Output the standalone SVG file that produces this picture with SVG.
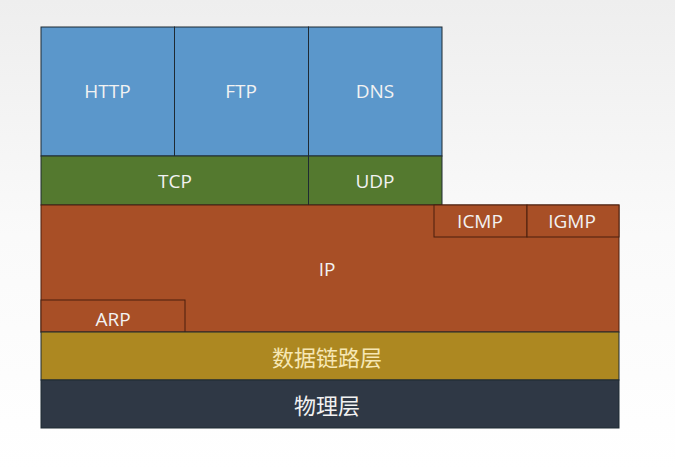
<svg xmlns="http://www.w3.org/2000/svg" width="675" height="470" viewBox="0 0 675 470">
<defs>
<linearGradient id="bg" x1="0" y1="0" x2="0" y2="1">
<stop offset="0" stop-color="#eeeeee"/>
<stop offset="0.5" stop-color="#fafafa"/>
<stop offset="1" stop-color="#ffffff"/>
</linearGradient>
<style>
.box{stroke:#1f2a33;stroke-width:1}
.app{fill:#5b97cb}
.tr{fill:#54792f}
.ip{fill:#a84f26;stroke:#4a1e0c}
.dl{fill:#ad8821}
.ph{fill:#2f3845}
text{font-family:"Open Sans","Noto Sans","Noto Sans CJK SC",sans-serif;font-size:19px;text-anchor:middle;dominant-baseline:central;fill:#f2f2f2}
.cjk{font-family:"Noto Sans CJK SC",sans-serif;font-size:22px}
</style>
</defs>
<rect width="675" height="470" fill="url(#bg)"/>
<g id="http"><rect class="box app" x="41" y="27" width="133.5" height="129"/><text x="107.5" y="91">HTTP</text></g>
<g id="ftp"><rect class="box app" x="174.5" y="27" width="134" height="129"/><text x="241" y="91">FTP</text></g>
<g id="dns"><rect class="box app" x="308.5" y="27" width="133.5" height="129"/><text x="375" y="91">DNS</text></g>
<g id="tcp"><rect class="box tr" x="41" y="156" width="267.5" height="49"/><text x="175" y="181">TCP</text></g>
<g id="udp"><rect class="box tr" x="308.5" y="156" width="133.5" height="49"/><text x="375" y="181">UDP</text></g>
<g id="ip"><rect class="box ip" x="41" y="205" width="578" height="127"/><text x="327" y="269">IP</text></g>
<g id="icmp"><rect class="box ip" x="434" y="205" width="93" height="32"/><text x="480" y="221">ICMP</text></g>
<g id="igmp"><rect class="box ip" x="527" y="205" width="92" height="32"/><text x="572" y="221">IGMP</text></g>
<g id="arp"><rect class="box ip" x="41" y="300" width="144" height="32"/><text x="113" y="319">ARP</text></g>
<g id="datalink"><rect class="box dl" x="41" y="332" width="578" height="48"/><text class="cjk" x="327" y="356" style="fill:#f6e7b4">数据链路层</text></g>
<g id="physical"><rect class="box ph" x="41" y="380" width="578" height="48"/><text class="cjk" x="327" y="404">物理层</text></g>
<g id="connectors"></g>
</svg>
